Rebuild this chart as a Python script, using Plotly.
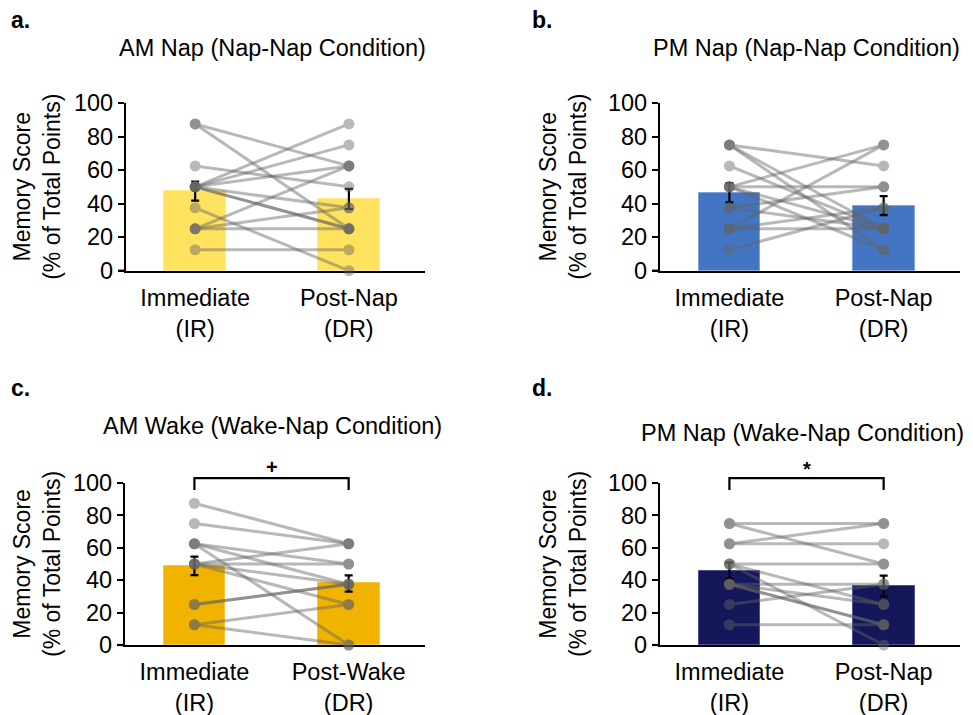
import plotly.graph_objects as go

# ---------------- data ----------------
cats_nap = ["Immediate<br>(IR)", "Post-Nap<br>(DR)"]
cats_wake = ["Immediate<br>(IR)", "Post-Wake<br>(DR)"]

titles = ["AM Nap (Nap-Nap Condition)", "PM Nap (Nap-Nap Condition)",
          "AM Wake (Wake-Nap Condition)", "PM Nap (Wake-Nap Condition)"]
panel_letters = ["a.", "b.", "c.", "d."]

# individual subjects: immediate (IR) and delayed (DR) scores
a_ir = [87.5, 87.5, 62.5, 50, 50, 50, 50, 50, 50, 37.5, 25, 25, 25, 12.5]
a_dr = [62.5, 25, 50, 87.5, 75, 62.5, 37.5, 25, 25, 0, 62.5, 37.5, 25, 12.5]

b_ir = [75, 75, 75, 62.5, 50, 50, 50, 50, 37.5, 37.5, 25, 25, 25, 12.5]
b_dr = [62.5, 25, 12.5, 25, 75, 50, 12.5, 25, 25, 50, 75, 25, 37.5, 37.5]

c_ir = [87.5, 75, 62.5, 62.5, 62.5, 50, 50, 50, 50, 25, 25, 12.5, 12.5]
c_dr = [62.5, 62.5, 50, 37.5, 0, 62.5, 50, 37.5, 25, 37.5, 37.5, 25, 0]

d_ir = [75, 75, 62.5, 62.5, 50, 50, 50, 37.5, 37.5, 37.5, 37.5, 25, 12.5]
d_dr = [75, 50, 75, 62.5, 50, 0, 25, 37.5, 25, 12.5, 12.5, 37.5, 12.5]

# group means and SEM
a_mean = [47.5, 42.8]
a_sem = [5.7, 6.0]
b_mean = [46.5, 38.8]
b_sem = [5.7, 5.7]
c_mean = [48.8, 38.0]
c_sem = [5.7, 5.0]
d_mean = [45.9, 36.4]
d_sem = [5.0, 6.4]

y_ticks = [0, 20, 40, 60, 80, 100]
sig_marks = [None, None, "+", "*"]

# ---------------- layout helpers ----------------
W, H = 973, 715
OFF = 8  # page body margin
FONT = "Liberation Sans, Arial, Helvetica, sans-serif"
XR = [-0.45, 1.495]
YR = [0, 100]


def px(xp):
    return (xp - OFF) / W


def py(yp):
    return 1 - (yp - OFF) / H


panels = [
    dict(ir=a_ir, dr=a_dr, mean=a_mean, sem=a_sem, cats=cats_nap,
         color="#FFE25E", edge="#FFE98A", xd=(126, 425), yd=(103, 270.7),
         title_xy=(272, 48), letter_xy=(9, 20), ytitle_x=37),
    dict(ir=b_ir, dr=b_dr, mean=b_mean, sem=b_sem, cats=cats_nap,
         color="#4375C3", edge="#7FA3DA", xd=(660, 960), yd=(103, 270.7),
         title_xy=(806, 48), letter_xy=(530, 20), ytitle_x=563),
    dict(ir=c_ir, dr=c_dr, mean=c_mean, sem=c_sem, cats=cats_wake,
         color="#F0B300", edge="#F4C53F", xd=(125, 425), yd=(483, 645),
         title_xy=(272, 426), letter_xy=(9, 388), ytitle_x=37),
    dict(ir=d_ir, dr=d_dr, mean=d_mean, sem=d_sem, cats=cats_nap,
         color="#14175A", edge="#4B5190", xd=(660, 960), yd=(483, 645),
         title_xy=(802, 433), letter_xy=(530, 388), ytitle_x=563),
]

fig = go.Figure()
layout = dict(width=W, height=H, autosize=False,
              margin=dict(l=0, r=0, t=0, b=0, pad=0, autoexpand=False),
              paper_bgcolor="white", plot_bgcolor="white",
              showlegend=False, bargap=0,
              font=dict(family=FONT, size=23, color="black"))
annotations = []
shapes = []

for i, p in enumerate(panels):
    n = i + 1
    xa = "x" if n == 1 else f"x{n}"
    ya = "y" if n == 1 else f"y{n}"
    xdom = [px(p["xd"][0]), px(p["xd"][1])]
    ydom = [py(p["yd"][1]), py(p["yd"][0])]

    # bars with SEM
    fig.add_trace(go.Bar(
        x=[0, 1], y=p["mean"], width=0.4, xaxis=xa, yaxis=ya,
        marker=dict(color=p["color"], line=dict(color=p["edge"], width=1)),
        error_y=dict(type="data", array=p["sem"], color="black",
                     thickness=2.2, width=4),
        hoverinfo="skip"))

    # individual subjects
    for ir, dr in zip(p["ir"], p["dr"]):
        fig.add_trace(go.Scatter(
            x=[0, 1], y=[ir, dr], mode="lines+markers", xaxis=xa, yaxis=ya,
            line=dict(color="rgb(100,100,100)", width=3),
            marker=dict(size=11, color="rgb(100,100,100)"),
            opacity=0.45, cliponaxis=False, hoverinfo="skip"))

    layout[f"xaxis{'' if n == 1 else n}"] = dict(
        domain=xdom, anchor=ya, range=XR, tickmode="array",
        tickvals=[0, 1], ticktext=p["cats"], ticks="", showgrid=False,
        zeroline=False, showline=True, linecolor="black", linewidth=2.2,
        layer="below traces", ticklabelstandoff=5, automargin=False,
        tickfont=dict(family=FONT, size=23.5, color="black"), fixedrange=True)
    layout[f"yaxis{'' if n == 1 else n}"] = dict(
        domain=ydom, anchor=xa, range=YR, tickmode="array",
        tickvals=y_ticks, ticks="outside", ticklen=6, tickwidth=2.2,
        tickcolor="black", showgrid=False, zeroline=False, showline=True,
        linecolor="black", linewidth=2.2, layer="below traces", automargin=False,
        tickfont=dict(family=FONT, size=23.5, color="black"), fixedrange=True)

    # x-axis line stub extending left of the y-axis
    shapes.append(dict(type="line", xref="paper", yref="paper",
                       x0=px(p["xd"][0] - 8), x1=xdom[0],
                       y0=ydom[0], y1=ydom[0],
                       line=dict(color="black", width=2.2)))

    # title, panel letter, y-axis title
    annotations.append(dict(text=titles[i], xref="paper", yref="paper",
                            x=px(p["title_xy"][0]), y=py(p["title_xy"][1]),
                            xanchor="center", yanchor="middle", showarrow=False,
                            font=dict(family=FONT, size=23.5, color="black")))
    annotations.append(dict(text=f"<b>{panel_letters[i]}</b>", xref="paper", yref="paper",
                            x=px(p["letter_xy"][0]), y=py(p["letter_xy"][1]),
                            xanchor="left", yanchor="middle", showarrow=False,
                            font=dict(family=FONT, size=23, color="black")))
    annotations.append(dict(text="Memory Score<br>(% of Total Points)",
                            xref="paper", yref="paper",
                            x=px(p["ytitle_x"]), y=(ydom[0] + ydom[1]) / 2,
                            xanchor="center", yanchor="middle", textangle=-90,
                            showarrow=False,
                            font=dict(family=FONT, size=23, color="black")))

    # significance bracket
    if sig_marks[i]:
        def dx(v):
            return xdom[0] + (v - XR[0]) / (XR[1] - XR[0]) * (xdom[1] - xdom[0])

        def dy(v):
            return ydom[0] + (v - YR[0]) / (YR[1] - YR[0]) * (ydom[1] - ydom[0])

        shapes.append(dict(type="path", xref="paper", yref="paper",
                           path=f"M {dx(0)},{dy(95.7)} L {dx(0)},{dy(103)} "
                                f"L {dx(1)},{dy(103)} L {dx(1)},{dy(95.7)}",
                           line=dict(color="black", width=2.2)))
        annotations.append(dict(text=f"<b>{sig_marks[i]}</b>", xref="paper", yref="paper",
                                x=dx(0.5), y=dy(110 if sig_marks[i] == "+" else 108.5),
                                xanchor="center", yanchor="middle", showarrow=False,
                                font=dict(family=FONT, size=20, color="black")))

layout["annotations"] = annotations
layout["shapes"] = shapes
fig.update_layout(**layout)
fig.write_html("out.html")
